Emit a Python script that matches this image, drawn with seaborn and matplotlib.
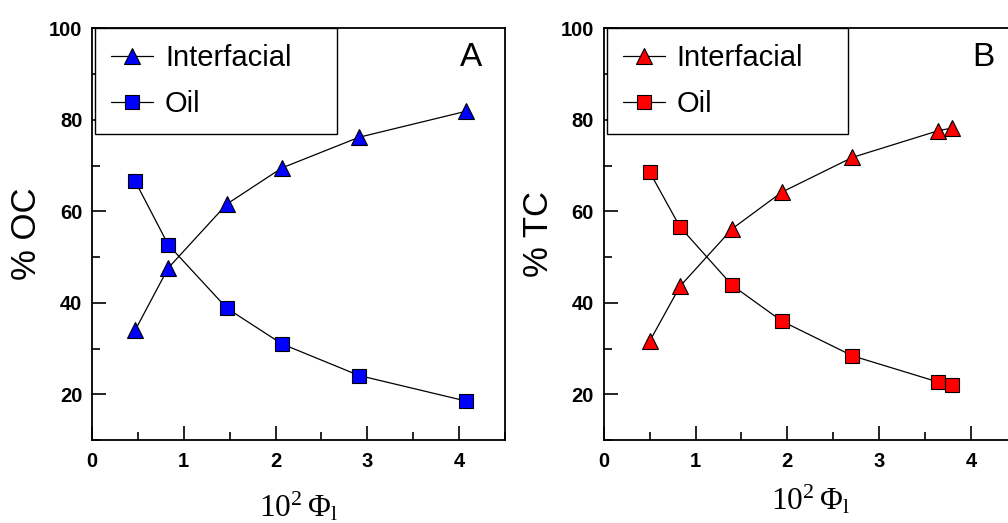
import numpy as np
import pandas as pd
import matplotlib
matplotlib.use("Agg")
import matplotlib.pyplot as plt
import seaborn as sns
from matplotlib.ticker import MultipleLocator

# Panel A data (% OC)
phi_a = [0.47, 0.83, 1.47, 2.07, 2.91, 4.08]
oc_interfacial = [34.0, 47.6, 61.6, 69.5, 76.2, 81.9]
oc_oil = [66.6, 52.7, 38.8, 31.0, 24.1, 18.5]

# Panel B data (% TC)
phi_b = [0.50, 0.83, 1.40, 1.94, 2.71, 3.64, 3.79]
tc_interfacial = [31.6, 43.6, 56.2, 64.2, 71.8, 77.6, 78.2]
tc_oil = [68.6, 56.6, 43.8, 36.0, 28.4, 22.7, 22.0]

panel_letters = ["A", "B"]
y_labels = ["% OC", "% TC"]
series_names = ["Interfacial", "Oil"]
xlabel_y = [-0.12, -0.105]

sns.set_style("white")
plt.rcParams["font.family"] = ["Liberation Sans", "DejaVu Sans"]
plt.rcParams.update({"text.color": "black", "axes.labelcolor": "black",
                     "xtick.color": "black", "ytick.color": "black"})

fig = plt.figure(figsize=(10.08, 5.23), dpi=100)
ax_a = fig.add_axes([0.0913, 0.1587, 0.4097, 0.787])
ax_b = fig.add_axes([0.599, 0.1587, 0.4097, 0.787])

panels = [
    (ax_a, phi_a, oc_interfacial, oc_oil, "blue"),
    (ax_b, phi_b, tc_interfacial, tc_oil, "red"),
]

for i, (ax, x, y_int, y_oil, col) in enumerate(panels):
    df = pd.DataFrame({"phi": x, "interfacial": y_int, "oil": y_oil})
    sns.lineplot(data=df, x="phi", y="interfacial", ax=ax, estimator=None, sort=False,
                 color="black", lw=0.9, marker="^", markersize=11,
                 markerfacecolor=col, markeredgecolor="black", markeredgewidth=0.8,
                 label=series_names[0])
    sns.lineplot(data=df, x="phi", y="oil", ax=ax, estimator=None, sort=False,
                 color="black", lw=0.9, marker="s", markersize=9.5,
                 markerfacecolor=col, markeredgecolor="black", markeredgewidth=0.8,
                 label=series_names[1])

    ax.set_xlim(0, 4.5)
    ax.set_ylim(10, 100)
    ax.xaxis.set_major_locator(MultipleLocator(1))
    ax.xaxis.set_minor_locator(MultipleLocator(0.5))
    ax.yaxis.set_major_locator(MultipleLocator(20))
    ax.yaxis.set_minor_locator(MultipleLocator(10))
    ax.set_yticks([20, 40, 60, 80, 100])
    ax.tick_params(which="major", direction="in", length=10, width=1.2, pad=9,
                   labelsize=14.5, bottom=True, left=True, top=False, right=False)
    ax.tick_params(which="minor", direction="in", length=6, width=1.2,
                   bottom=True, left=True, top=False, right=False)
    ax.tick_params(axis="y", which="major", pad=7)
    for lab in ax.get_xticklabels() + ax.get_yticklabels():
        lab.set_fontweight("bold")
    for sp in ax.spines.values():
        sp.set_linewidth(1.3)
        sp.set_color("black")

    ax.set_ylabel(y_labels[i], fontsize=25)
    ax.yaxis.set_label_coords(-0.118, 0.5)
    ax.set_xlabel(r"$\mathregular{10^2\,\Phi_l}$", fontsize=22.5,
                  fontfamily="Liberation Serif")
    ax.xaxis.set_label_coords(0.5, xlabel_y[i])

    leg = ax.legend(loc="upper left", bbox_to_anchor=(0.007, 0.0, 0.585, 1.0),
                    mode="expand", borderaxespad=0,
                    fancybox=False, edgecolor="black", framealpha=1, fontsize=21,
                    handlelength=1.45, handletextpad=0.4, labelspacing=0.6, borderpad=0.55)
    leg.get_frame().set_linewidth(1.0)

    ax.text(0.945, 0.93, panel_letters[i], transform=ax.transAxes, fontsize=24,
            ha="right", va="center")

fig.savefig("out.png", dpi=100)
